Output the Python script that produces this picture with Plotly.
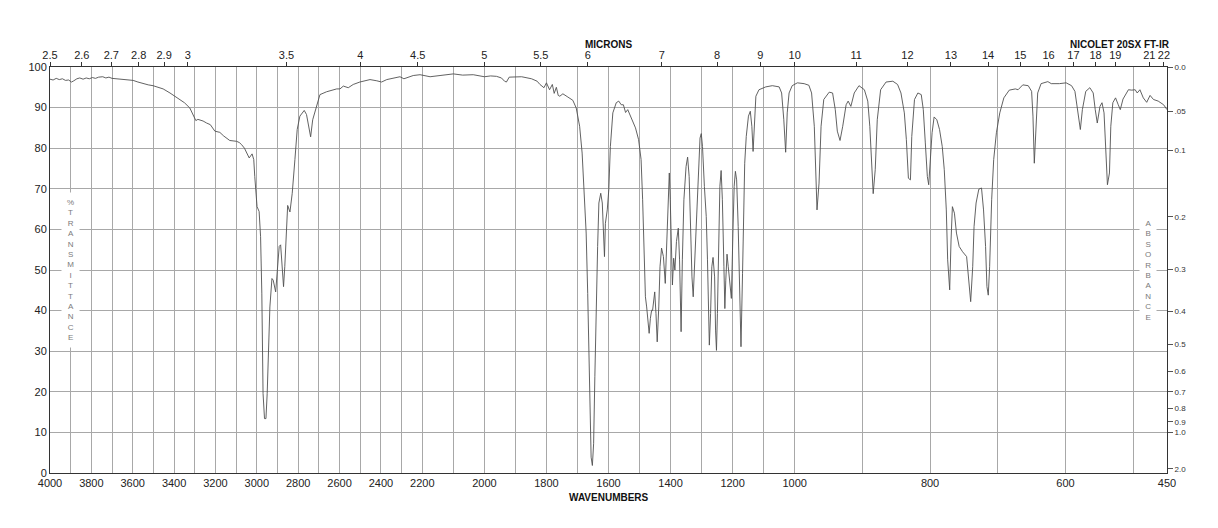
import numpy as np
import plotly.graph_objects as go

# ---------------- data ----------------
wavenumber = [
    4000, 3985, 3970, 3955, 3940, 3925, 3910, 3896, 3885, 3870, 3856, 3840, 3825, 3810, 3795, 3780,
    3765, 3745, 3730, 3715, 3700, 3679, 3660, 3640, 3620, 3598, 3575, 3550, 3525, 3502, 3475, 3453,
    3420, 3395, 3373, 3350, 3324, 3305, 3295, 3285, 3276, 3260, 3243, 3225, 3203, 3190, 3179, 3160,
    3131, 3115, 3098, 3085, 3074, 3060, 3050, 3037, 3023, 3015, 3010, 3005, 2999, 2989, 2982, 2976,
    2970, 2963, 2956, 2950, 2943, 2937, 2927, 2921, 2909, 2902, 2892, 2885, 2877, 2871, 2865, 2856,
    2851, 2840, 2829, 2816, 2805, 2792, 2771, 2760, 2748, 2740, 2730, 2719, 2708, 2695, 2663, 2640,
    2614, 2598, 2582, 2558, 2534, 2502, 2453, 2420, 2397, 2372, 2340, 2308, 2289, 2265, 2244, 2211,
    2175, 2143, 2100, 2070, 2036, 2000, 1980, 1961, 1945, 1935, 1929, 1920, 1880, 1848, 1830, 1821,
    1808, 1800, 1790, 1781, 1775, 1768, 1762, 1757, 1747, 1731, 1715, 1704, 1693, 1685, 1677, 1672,
    1667, 1661, 1656, 1652, 1648, 1644, 1640, 1635, 1631, 1625, 1620, 1616, 1613, 1610, 1604, 1599,
    1594, 1586, 1575, 1567, 1559, 1552, 1545, 1538, 1527, 1513, 1503, 1495, 1490, 1484, 1481, 1477,
    1474, 1469, 1465, 1461, 1458, 1451, 1447, 1443, 1438, 1434, 1429, 1423, 1417, 1413, 1408, 1404,
    1401, 1398, 1394, 1390, 1386, 1381, 1375, 1371, 1366, 1362, 1357, 1350, 1345, 1340, 1336, 1331,
    1327, 1323, 1316, 1310, 1305, 1301, 1297, 1291, 1285, 1281, 1278, 1275, 1271, 1267, 1263, 1258,
    1255, 1252, 1249, 1244, 1241, 1237, 1233, 1228, 1225, 1222, 1218, 1214, 1209, 1204, 1199, 1195,
    1191, 1187, 1182, 1178, 1173, 1168, 1165, 1161, 1156, 1149, 1143, 1138, 1134, 1130, 1125, 1115,
    1093, 1072, 1050, 1042, 1035, 1029, 1024, 1018, 1008,
    996, 986, 979, 975, 971, 969, 967, 964, 961, 957, 949, 944, 940, 937, 933, 929,
    924, 921, 917, 912, 905, 897, 892, 889, 886, 884, 881, 878, 873, 865, 855, 848,
    843, 838, 835, 832, 829, 827, 823, 818, 813, 810, 807, 804, 802, 800, 797, 794,
    790, 786, 782, 779, 776, 774, 771, 769, 767, 764, 761, 757, 752, 746, 743, 740,
    737, 735, 732, 728, 724, 721, 718, 716, 714, 712, 709, 706, 702, 697, 691, 683,
    674, 670, 663, 655, 650, 648, 646, 643, 641, 636, 626, 621, 609, 599, 591, 586,
    583, 578, 575, 570, 564, 559, 556, 553, 549, 546, 543, 540, 538, 535, 533, 530,
    526, 522, 519, 515, 507, 502, 497, 494, 490, 485, 480, 475, 470, 463, 455, 450,
]
transmittance = [
    97.0, 96.8, 97.2, 96.9, 97.1, 96.7, 96.8, 96.3, 96.6, 97.1, 97.3, 97.0, 97.3, 97.1, 97.4, 97.2,
    97.5, 97.6, 97.3, 97.5, 97.2, 97.1, 97.0, 96.9, 96.8, 96.7, 96.3, 95.9, 95.6, 95.4, 95.0, 94.6,
    93.6, 92.8, 92.0, 91.2, 89.9, 88.0, 86.8, 87.1, 87.0, 86.7, 86.2, 85.8, 84.2, 84.1, 83.9, 83.0,
    81.9, 81.8, 81.7, 81.4, 80.9, 80.0, 78.8, 77.6, 78.6, 77.2, 73.0, 69.8, 65.6, 64.4, 58.2, 44.3,
    19.6, 13.4, 13.4, 19.6, 33.5, 40.9, 47.9, 47.5, 44.6, 49.2, 55.8, 56.2, 50.8, 45.9, 50.8, 62.0,
    65.9, 64.3, 68.9, 77.2, 84.6, 87.9, 89.3, 88.3, 84.6, 82.8, 87.0, 89.1, 91.2, 93.2, 93.9, 94.2,
    94.6, 94.6, 95.3, 94.9, 95.7, 96.3, 96.9, 96.6, 96.3, 96.9, 97.2, 97.6, 97.1, 97.6, 97.9, 98.1,
    97.6, 97.9, 98.3, 98.0, 98.1, 97.6, 97.8, 97.7, 97.3, 96.5, 96.3, 97.5, 97.6, 97.1, 96.5, 95.7,
    94.9, 96.1, 94.4, 95.7, 93.5, 95.0, 93.0, 92.8, 93.4, 92.6, 91.8, 89.9, 85.4, 78.8, 67.3, 59.1,
    44.2, 19.6, 3.9, 1.85, 7.2, 23.7, 40.1, 55.8, 66.5, 68.9, 66.5, 57.4, 53.3, 61.5, 64.8, 69.8,
    80.4, 88.7, 91.2, 91.6, 90.7, 90.7, 88.8, 89.5, 87.5, 85.0, 82.1, 77.2, 67.3, 52.5, 43.4, 40.9,
    38.9, 34.4, 38.1, 40.1, 40.0, 44.6, 39.3, 32.3, 40.9, 50.8, 55.4, 53.3, 46.7, 55.8, 67.3, 73.9,
    67.3, 55.8, 46.3, 52.9, 50.0, 57.0, 60.3, 52.5, 34.8, 52.5, 67.3, 75.5, 77.8, 73.0, 58.2, 48.3,
    43.4, 50.8, 65.6, 77.2, 82.5, 83.6, 80.4, 70.6, 63.2, 52.5, 37.7, 31.5, 39.3, 50.8, 53.1, 48.3,
    35.2, 30.2, 39.3, 59.1, 70.6, 74.5, 67.3, 50.8, 40.5, 47.5, 53.9, 50.8, 45.9, 43.0, 59.1, 70.6,
    74.3, 72.2, 60.7, 49.2, 31.1, 49.2, 64.8, 76.3, 82.9, 87.9, 89.1, 85.4, 79.2, 87.0, 92.8, 94.4,
    95.1, 95.4, 95.1, 93.6, 87.0, 79.0, 88.7, 93.6, 95.4,
    96.1, 95.9, 95.5, 93.6, 85.4, 73.0, 64.8, 71.4, 85.4, 92.0, 93.8, 93.6, 89.5, 84.2, 81.9, 85.4,
    90.7, 91.6, 90.3, 93.6, 95.4, 94.4, 91.6, 85.4, 74.7, 68.8, 74.7, 87.0, 94.4, 96.3, 96.5, 95.7,
    93.6, 88.7, 82.1, 72.6, 72.2, 82.9, 92.0, 93.6, 93.2, 89.5, 81.3, 73.0, 71.0, 77.2, 83.8, 87.7,
    87.0, 84.6, 80.4, 74.7, 64.8, 52.5, 45.1, 57.4, 65.6, 64.0, 59.1, 55.8, 54.5, 53.3, 48.3, 42.2,
    50.8, 60.7, 66.5, 69.9, 70.2, 64.8, 55.8, 45.9, 43.8, 50.8, 67.3, 77.2, 83.8, 88.7, 92.4, 94.3,
    94.6, 94.4, 95.6, 95.4, 94.0, 87.9, 76.3, 85.4, 93.6, 95.9, 96.4, 95.9, 95.9, 96.1, 95.4, 94.0,
    90.3, 84.6, 89.5, 94.0, 94.9, 93.6, 89.5, 86.2, 90.3, 91.2, 88.7, 78.0, 71.0, 73.9, 85.4, 91.2,
    92.4, 90.7, 89.5, 92.1, 94.4, 94.3, 94.4, 93.6, 94.4, 92.4, 91.3, 93.0, 92.0, 91.6, 90.7, 89.5,
]

wn_ticks = [4000, 3800, 3600, 3400, 3200, 3000, 2800, 2600, 2400, 2200, 2000,
            1800, 1600, 1400, 1200, 1000, 800, 600, 450]
wn_minor_grid = [3900, 3700, 3500, 3300, 3100, 2900, 2700, 2500, 2300, 2100, 1900,
                 1700, 1500, 1300, 1100, 900, 700, 500]
micron_ticks = [2.5, 2.6, 2.7, 2.8, 2.9, 3, 3.5, 4, 4.5, 5, 5.5, 6, 7, 8, 9, 10,
                11, 12, 13, 14, 15, 16, 17, 18, 19, 21, 22]
micron_labels = ["2.5", "2.6", "2.7", "2.8", "2.9", "3", "3.5", "4", "4.5", "5", "5.5",
                 "6", "7", "8", "9", "10", "11", "12", "13", "14", "15", "16", "17",
                 "18", "19", "21", "22"]
T_ticks = list(range(0, 101, 10))
absorb_ticks = [0.0, 0.05, 0.1, 0.2, 0.3, 0.4, 0.5, 0.6, 0.7, 0.8, 0.9, 1.0, 2.0]
absorb_labels = ["0.0", ".05", "0.1", "0.2", "0.3", "0.4", "0.5", "0.6", "0.7",
                 "0.8", "0.9", "1.0", "2.0"]


# piecewise-linear wavenumber scale (4000-2200, 2200-1000, 1000-450 each one third)
def wscale(w):
    w = np.asarray(w, dtype=float)
    return np.where(w >= 2200, (4000 - w) / 1800.0,
                    np.where(w >= 1000, 1 + (2200 - w) / 1200.0, 2 + (1000 - w) / 550.0))


FONT = "Liberation Sans, Arial, Helvetica, sans-serif"
GRID = "#a8a8a8"
AX = "#333333"

u = wscale(wavenumber)

fig = go.Figure()
fig.add_trace(go.Scatter(x=u, y=transmittance, mode="lines",
                         line=dict(color="#505050", width=0.9), hoverinfo="skip",
                         showlegend=False))
# companion trace to carry the micron / absorbance axes
fig.add_trace(go.Scatter(x=u, y=transmittance, mode="lines", xaxis="x2", yaxis="y2",
                         line=dict(color="rgba(0,0,0,0)", width=0), hoverinfo="skip",
                         showlegend=False))

fig.update_layout(
    width=1218, height=528,
    margin=dict(l=50, r=51, t=67, b=55),
    paper_bgcolor="white", plot_bgcolor="white",
    font=dict(family=FONT, size=11, color="#222"),
    showlegend=False,
    xaxis=dict(range=[0, 3], tickmode="array", tickvals=wscale(wn_ticks),
               ticktext=[str(t) for t in wn_ticks], ticks="", showgrid=True,
               gridcolor=GRID, gridwidth=1, zeroline=False, showline=True,
               linecolor=AX, linewidth=1, tickfont=dict(size=11, color="#222"),
               minor=dict(tickmode="array", tickvals=wscale(wn_minor_grid),
                          showgrid=True, gridcolor=GRID, gridwidth=1, ticks="")),
    xaxis2=dict(range=[0, 3], overlaying="x", side="top", tickmode="array",
                tickvals=wscale([10000.0 / m for m in micron_ticks]),
                ticktext=micron_labels, ticks="outside", ticklen=4, tickcolor=AX,
                ticklabelstandoff=-1,
                showgrid=False, zeroline=False, showline=True, linecolor=AX,
                linewidth=1, tickfont=dict(size=11, color="#222")),
    yaxis=dict(range=[0, 100], tickmode="array", tickvals=T_ticks, ticks="",
               showgrid=True, gridcolor=GRID, gridwidth=1, zeroline=False,
               showline=True, linecolor=AX, linewidth=1,
               tickfont=dict(size=11, color="#222")),
    yaxis2=dict(range=[0, 100], overlaying="y", side="right", tickmode="array",
                tickvals=[100 * 10 ** (-a) for a in absorb_ticks], ticktext=absorb_labels,
                ticks="outside", ticklen=5, tickcolor="#555", showgrid=False,
                zeroline=False, showline=True, linecolor=AX, linewidth=1,
                tickfont=dict(size=8, color="#333")),
)

annots = [
    dict(text="<b>MICRONS</b>", x=0.5002, y=1.0556, xref="paper", yref="paper",
         showarrow=False, font=dict(size=10, color="#111"), xanchor="center", yanchor="middle"),
    dict(text="<b>NICOLET 20SX FT-IR</b>", x=1.0045, y=1.0556, xref="paper", yref="paper",
         showarrow=False, font=dict(size=10, color="#111"), xanchor="right", yanchor="middle"),
    dict(text="<b>WAVENUMBERS</b>", x=0.5002, y=-0.0605, xref="paper", yref="paper",
         showarrow=False, font=dict(size=10, color="#111"), xanchor="center", yanchor="middle"),
    dict(text="<br>".join(list("%TRANSMITTANCE")), x=0.0185, y=0.5, xref="paper",
         yref="paper", showarrow=False, font=dict(size=8, color="#7a7a7a"),
         xanchor="center", yanchor="middle", bgcolor="white", borderpad=5),
    dict(text="<br>".join(list("ABSORBANCE")), x=0.9828, y=0.5, xref="paper",
         yref="paper", showarrow=False, font=dict(size=8, color="#7a7a7a"),
         xanchor="center", yanchor="middle", bgcolor="white", borderpad=5),
]
fig.update_layout(annotations=annots)

fig.write_html("out.html")
